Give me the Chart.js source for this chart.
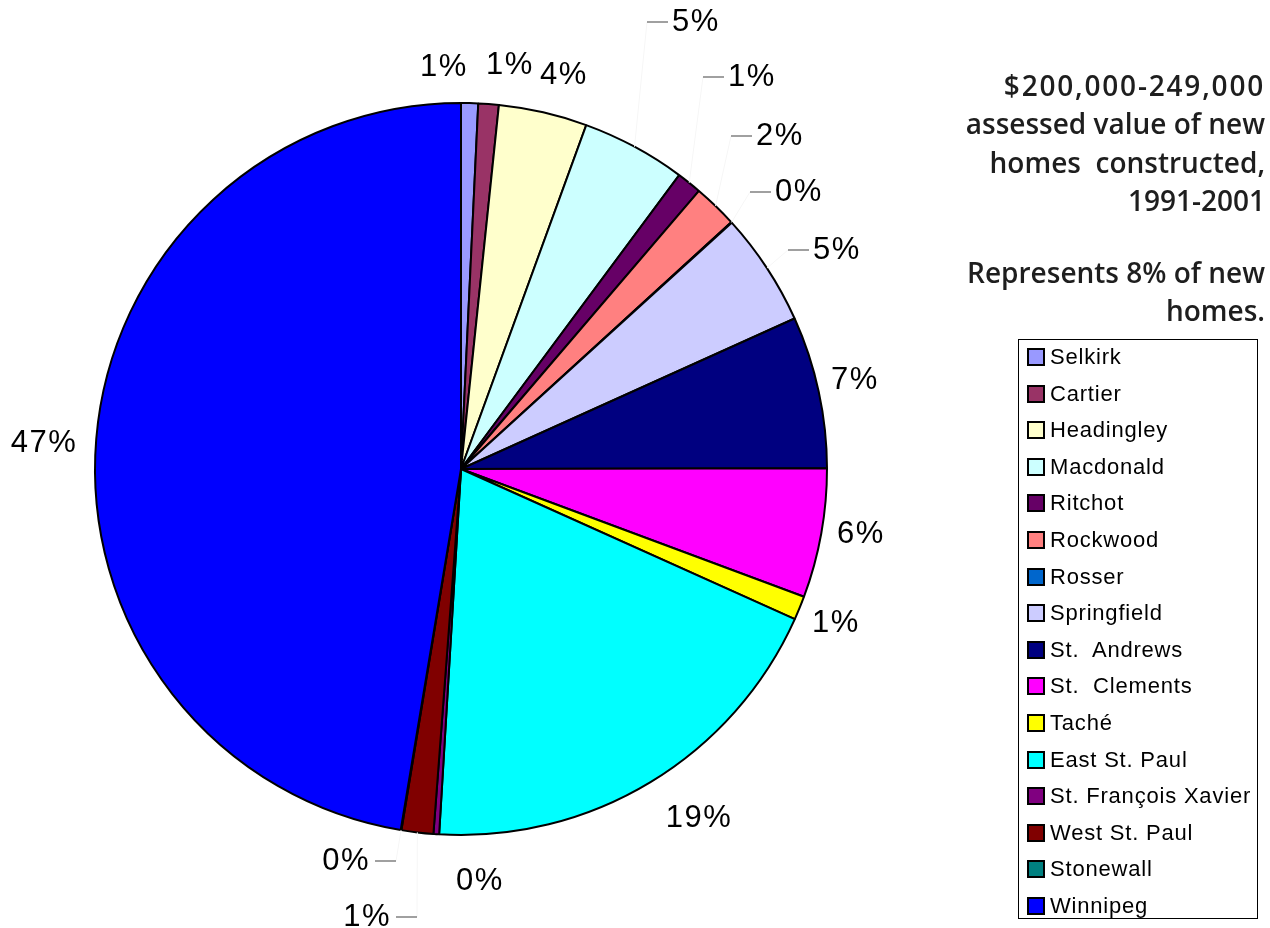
<!DOCTYPE html>
<html>
<head>
<meta charset="utf-8">
<script src="https://cdn.jsdelivr.net/npm/chart.js@4.4.0/dist/chart.umd.min.js"></script>
<style>
  html, body { margin: 0; padding: 0; background: #fff; }
  #wrap { position: relative; width: 1270px; height: 928px; overflow: hidden; }
  #pie { position: absolute; left: 0; top: 0; }
  #title {
    position: absolute; right: 5px; top: 66px; width: 360px;
    text-align: right; font-family: "Open Sans", sans-serif; font-weight: 600;
    font-size: 28px; line-height: 38.3px; color: #1e1e1e;
  }
  #title p { margin: 0 0 34px 0; }
  #title .wide { letter-spacing: 1.8px; }
  #legend {
    position: absolute; left: 1018px; top: 339px; width: 240px; height: 580px;
    border: 1px solid #000; box-sizing: border-box; padding-top: 0;
    font-family: "Liberation Sans", Arial, sans-serif; font-size: 22px; color: #000;
  }
  .item { height: 36.6px; line-height: 34px; white-space: pre; padding-left: 8px; letter-spacing: 0.8px; }
  .sw { display: inline-block; width: 14px; height: 14px; border: 2px solid #000; vertical-align: -2px; margin-right: 5px; }
</style>
</head>
<body>
<div id="wrap">
  <canvas id="pie" width="1270" height="928"></canvas>
  <div id="title">
    <p><span class="wide">$200,000-249,000</span><br>assessed value of new<br>homes&nbsp; constructed,<br>1991-2001</p>
    <p>Represents 8% of new<br>homes.</p>
  </div>
  <div id="legend"></div>
</div>
<script>
// share of new homes by municipality (percent)
var municipalities = ["Selkirk", "Cartier", "Headingley", "Macdonald", "Ritchot", "Rockwood", "Rosser",
  "Springfield", "St.  Andrews", "St.  Clements", "Taché", "East St. Paul", "St. François Xavier",
  "West St. Paul", "Stonewall", "Winnipeg"];
var shares = [0.75, 0.9, 3.9, 4.6, 1.1, 1.95, 0.03, 5.0, 6.7, 5.7, 1.05, 19.2, 0.25, 1.4, 0.03, 47.3];
var sliceColors = ["#9999FF", "#993366", "#FFFFCC", "#CCFFFF", "#660066", "#FF8080", "#0066CC",
  "#CCCCFF", "#000080", "#FF00FF", "#FFFF00", "#00FFFF", "#800080", "#800000", "#008080", "#0000FF"];

// where each percentage label sits, and which side its little dash goes on
var labelX = [444, 510, 564, 672, 728, 756, 775, 813, 855, 861, 836, 699, 480, 391, 370, 44];
var labelY = [66, 64, 74, 21, 76, 135, 191, 249, 379, 533, 622, 817, 880, 916, 860, 442];
var dashSide = ["", "", "", "L", "L", "L", "L", "L", "", "", "", "", "", "R", "R", ""];

var legend = document.getElementById("legend");
municipalities.forEach(function(name, i) {
  var row = document.createElement("div");
  row.className = "item";
  row.innerHTML = '<span class="sw" style="background:' + sliceColors[i] + '"></span>' + name;
  legend.appendChild(row);
});

var pctLabels = {
  id: "pctLabels",
  afterDatasetsDraw: function(chart) {
    var ctx = chart.ctx;
    var arcs = chart.getDatasetMeta(0).data;
    var total = shares.reduce(function(a, b) { return a + b; }, 0);
    ctx.save();
    ctx.font = "31px 'Liberation Sans', Arial, sans-serif";
    ctx.letterSpacing = "1.5px";
    ctx.textBaseline = "middle";
    ctx.fillStyle = "#000";
    arcs.forEach(function(arc, i) {
      var txt = Math.round(shares[i] / total * 100) + "%";
      var x = labelX[i], y = labelY[i];
      if (dashSide[i]) {
        var mid = (arc.startAngle + arc.endAngle) / 2;
        var ex = arc.x + Math.cos(mid) * arc.outerRadius;
        var ey = arc.y + Math.sin(mid) * arc.outerRadius;
        var dx0 = dashSide[i] == "L" ? x - 25 : x + 5;
        var dx1 = dx0 + 21;
        // faint leader line from the slice to the dash
        ctx.strokeStyle = "#f6f6f6";
        ctx.lineWidth = 1;
        ctx.beginPath();
        ctx.moveTo(ex, ey);
        ctx.lineTo(dashSide[i] == "L" ? dx0 : dx1, y + 1);
        ctx.stroke();
        ctx.strokeStyle = "#808080";
        ctx.lineWidth = 1.5;
        ctx.beginPath();
        ctx.moveTo(dx0, y + 1);
        ctx.lineTo(dx1, y + 1);
        ctx.stroke();
        ctx.textAlign = dashSide[i] == "L" ? "left" : "right";
      } else {
        ctx.textAlign = "center";
      }
      ctx.fillText(txt, x, y + 1);
    });
    ctx.restore();
  }
};

var chart = new Chart(document.getElementById("pie"), {
  type: "pie",
  data: {
    labels: municipalities,
    datasets: [{
      data: shares,
      backgroundColor: sliceColors,
      borderColor: "#000",
      borderWidth: 2,
      radius: 366
    }]
  },
  options: {
    responsive: false,
    animation: false,
    layout: { padding: { left: 0, right: 348, top: 10, bottom: 0 } },
    plugins: {
      legend: { display: false },
      tooltip: { enabled: false }
    }
  },
  plugins: [pctLabels]
});
</script>
</body>
</html>
